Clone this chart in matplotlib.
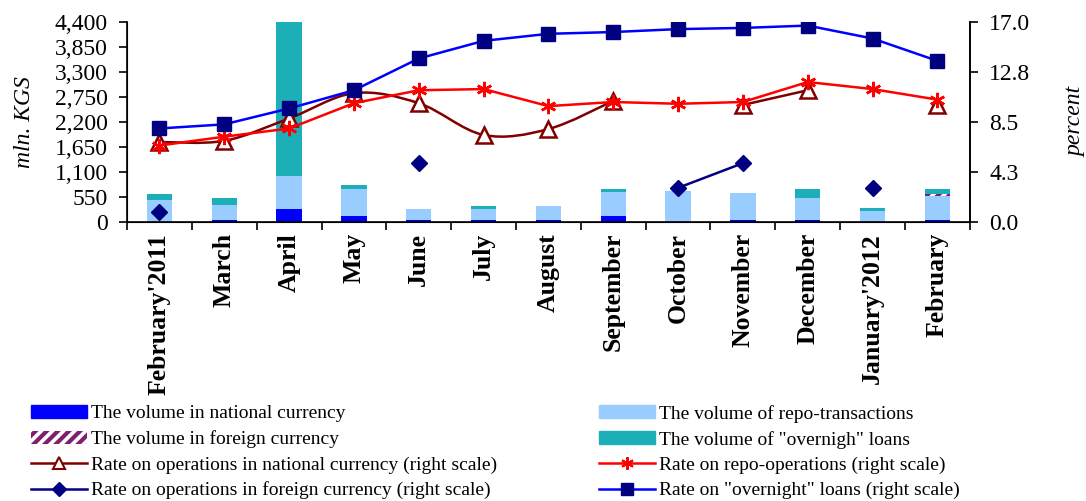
import numpy as np
import matplotlib
matplotlib.use("Agg")
import matplotlib.pyplot as plt
from matplotlib.path import Path
from matplotlib.patches import PathPatch, Patch
from matplotlib.lines import Line2D
from matplotlib.ticker import FuncFormatter

plt.rcParams['font.family'] = ['Liberation Serif', 'DejaVu Serif']
plt.rcParams['hatch.linewidth'] = 3.0

months = ["February'2011", "March", "April", "May", "June", "July", "August",
          "September", "October", "November", "December", "January'2012", "February"]

# volumes, mln. KGS (stacked bars)
vol_national = [0, 44, 286, 132, 44, 44, 44, 132, 0, 44, 44, 0, 44]
vol_repo = [484, 330, 726, 587, 242, 242, 308, 528, 682, 594, 484, 242, 528]
vol_foreign = [0, 0, 0, 0, 0, 0, 0, 0, 0, 0, 0, 0, 44]
vol_overnight = [130, 154, 3388, 95, 0, 66, 0, 66, 0, 0, 198, 60, 110]

# rates, percent (right scale)
rate_national = [6.8, 6.9, 8.8, 10.95, 10.1, 7.4, 7.9, 10.3, np.nan, 9.95, 11.2, np.nan, 9.95]
rate_repo = [6.5, 7.25, 7.95, 10.1, 11.2, 11.3, 9.85, 10.2, 10.05, 10.2, 11.9, 11.3, 10.4]
rate_foreign = [0.85, np.nan, np.nan, np.nan, 5.0, np.nan, np.nan, np.nan, 2.9, 5.0, np.nan, 2.9, np.nan]
rate_overnight = [7.95, 8.3, 9.65, 11.2, 13.9, 15.4, 16.0, 16.15, 16.4, 16.5, 16.7, 15.6, 13.7]

left_ticks = np.arange(0, 4401, 550)
right_ticks = [0.0, 4.25, 8.5, 12.75, 17.0]
right_labels = ["0.0", "4.3", "8.5", "12.8", "17.0"]

c_nat = '#0000FF'
c_repo = '#99CCFF'
c_for = '#7F1F6F'
c_over = '#1CAFB8'


def smooth_path(xs, ys):
    # excel-like smoothed line, drawn as bezier segments through the points
    verts, codes = [], []
    n = len(xs)
    i = 0
    while i < n:
        if np.isnan(ys[i]):
            i += 1
            continue
        j = i
        while j + 1 < n and not np.isnan(ys[j + 1]):
            j += 1
        px = xs[i:j + 1]
        py = ys[i:j + 1]
        m = len(px)
        verts.append((px[0], py[0]))
        codes.append(Path.MOVETO)
        for k in range(m - 1):
            k0 = max(k - 1, 0)
            k3 = min(k + 2, m - 1)
            c1 = (px[k] + (px[k + 1] - px[k0]) / 6, py[k] + (py[k + 1] - py[k0]) / 6)
            c2 = (px[k + 1] - (px[k3] - px[k]) / 6, py[k + 1] - (py[k3] - py[k]) / 6)
            verts += [c1, c2, (px[k + 1], py[k + 1])]
            codes += [Path.CURVE4] * 3
        i = j + 1
    return Path(verts, codes)


x = np.arange(len(months))
fig, ax = plt.subplots(figsize=(10.86, 5.01), dpi=100)
fig.subplots_adjust(left=0.117, right=0.893, top=0.956, bottom=0.557)

w = 0.39
b = np.zeros(len(x))
ax.bar(x, vol_national, w, bottom=b, color=c_nat, lw=0)
b += vol_national
ax.bar(x, vol_repo, w, bottom=b, color=c_repo, lw=0)
b += vol_repo
ax.bar(x, vol_foreign, w, bottom=b, color='white', edgecolor=c_for, hatch='///', lw=0)
b += vol_foreign
ax.bar(x, vol_overnight, w, bottom=b, color=c_over, lw=0)

ax.set_xlim(-0.5, len(x) - 0.5)
ax.set_ylim(0, 4400)
ax.set_yticks(left_ticks)
ax.yaxis.set_major_formatter(FuncFormatter(lambda v, p: f'{v:,.0f}'))
ax.set_xticks(x)
ax.set_xticklabels(months, rotation=90, fontweight='bold', fontsize=18.5)
ax.set_xticks(np.arange(-0.5, len(x), 1), minor=True)
ax.tick_params(axis='x', which='major', length=0, pad=8)
ax.tick_params(axis='x', which='minor', length=6, width=1.2, direction='out')
ax.tick_params(axis='y', labelsize=17, length=6, width=1.2, pad=8)
ax.set_ylabel('mln. KGS', fontstyle='italic', fontsize=17, labelpad=14)
ax.spines['top'].set_visible(False)
for s in ['left', 'bottom', 'right']:
    ax.spines[s].set_linewidth(1.2)

ax2 = ax.twinx()
ax2.set_ylim(0, 17)
ax2.set_yticks(right_ticks)
ax2.set_yticklabels(right_labels)
ax2.tick_params(axis='y', labelsize=17, length=6, width=1.2, pad=8)
ax2.set_ylabel('percent', fontstyle='italic', fontsize=17, labelpad=25, rotation=90)
ax2.spines['top'].set_visible(False)
ax2.spines['right'].set_linewidth(1.2)

rn = np.array(rate_national, dtype=float)
ax2.add_patch(PathPatch(smooth_path(x.astype(float), rn), fill=False, edgecolor='#800000', lw=1.8))
ax2.plot(x, rn, ls='none', marker='^', ms=11, mfc='white', mec='#800000', mew=1.8)
ax2.plot(x, rate_repo, color='#FF0000', lw=1.8, marker=(6, 2, 0), ms=11, mec='#FF0000', mew=1.8)
ax2.plot(x, rate_foreign, color='#000080', lw=1.8, marker='D', ms=8, mfc='#000080', mec='#000080')
ax2.plot(x, rate_overnight, color='#0000FF', lw=1.8, marker='s', ms=10, mfc='#000080', mec='#000080')

h1 = [Patch(color=c_nat),
      Patch(facecolor='white', edgecolor=c_for, hatch='///', lw=0),
      Line2D([], [], color='#800000', lw=1.8, marker='^', ms=9, mfc='white', mec='#800000', mew=1.5),
      Line2D([], [], color='#000080', lw=1.8, marker='D', ms=7, mfc='#000080', mec='#000080')]
l1 = ["The volume in national currency",
      "The volume in foreign currency",
      "Rate on operations in national currency (right scale)",
      "Rate on operations in foreign currency (right scale)"]
h2 = [Patch(color=c_repo),
      Patch(color=c_over),
      Line2D([], [], color='#FF0000', lw=1.8, marker=(6, 2, 0), ms=9, mec='#FF0000', mew=1.5),
      Line2D([], [], color='#0000FF', lw=1.8, marker='s', ms=8, mfc='#000080', mec='#000080')]
l2 = ["The volume of repo-transactions",
      "The volume of \"overnigh\" loans",
      "Rate on repo-operations (right scale)",
      "Rate on \"overnight\" loans (right scale)"]

kw = dict(frameon=False, fontsize=14, handlelength=2.85, handleheight=0.67,
          handletextpad=0.2, labelspacing=0.41, borderaxespad=0, borderpad=0)
fig.legend(h1, l1, loc='upper left', bbox_to_anchor=(0.029, 0.192), **kw)
fig.legend(h2, l2, loc='upper left', bbox_to_anchor=(0.552, 0.192), **kw)

fig.savefig('out.png', dpi=100)
